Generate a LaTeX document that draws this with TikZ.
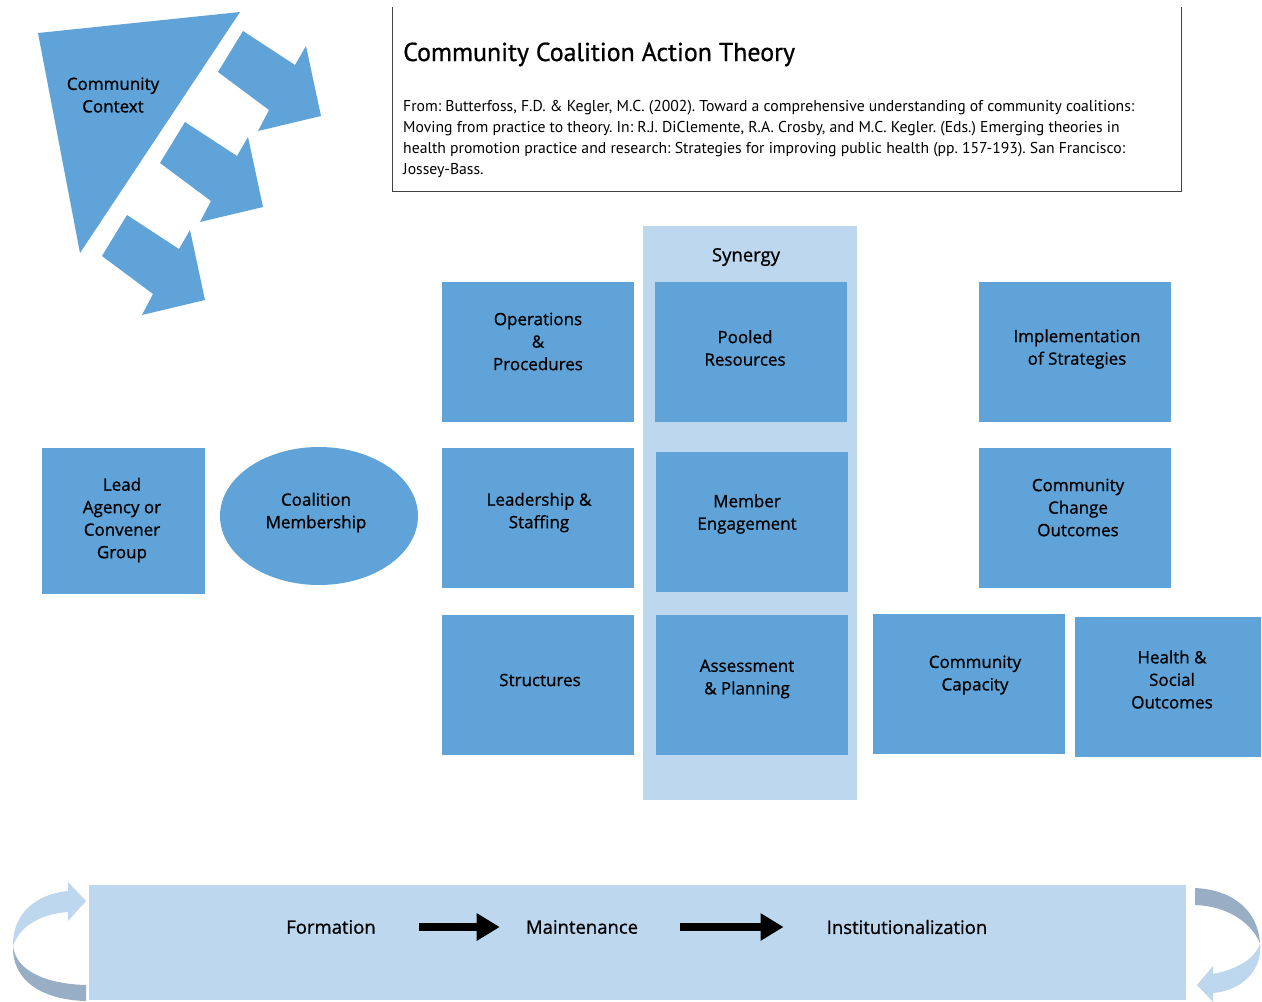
\documentclass[tikz,border=0pt]{standalone}
\usepackage{fontspec}
\setmainfont{Open Sans}
\newfontfamily\ccfont{Open Sans}[FakeBold=0.9]
\newfontfamily\citefont{PT Sans}
\newfontfamily\titlefont{PT Sans}[FakeBold=0.8]
\usetikzlibrary{positioning,arrows.meta,shapes.geometric}
\frenchspacing
\definecolor{ccBlue}{HTML}{5FA3D8}
\definecolor{ccPale}{HTML}{BDD7EE}
\definecolor{ccSlate}{HTML}{98AEC5}
\newcommand{\ccBoxFont}{\ccfont\fontsize{17}{22.5}\selectfont}
\newcommand{\ccBarFont}{\ccfont\fontsize{18.5}{22}\selectfont}
\tikzset{
  ccbox/.style={rectangle, fill=ccBlue, minimum width=192pt, minimum height=140pt, inner sep=0pt},
  ccoval/.style={ellipse, fill=ccBlue, minimum width=198pt, minimum height=138pt, inner sep=0pt},
  cctext/.style={inner sep=0pt, align=center, font=\ccBoxFont},
  ccstage/.style={inner sep=0pt, font=\ccBarFont},
  ccflow/.style={line width=8.5pt, -{Triangle[width=26pt,length=23pt]}},
  ccarrow/.style={fill=ccBlue},
}

\begin{document}
\begin{tikzpicture}[x=1pt,y=-1pt]
  \useasboundingbox (0,0) rectangle (1262,1002);
  % community context
  \fill[ccBlue] (38,33) -- (240,12) -- (80,253) -- cycle;
  \node[cctext] (ctx) at (113,95) {Community\\Context};
  \foreach \dx/\dy in {0/0,-58/91,-116/184}
    \fill[ccarrow, shift={(\dx,\dy)}] (218,72) -- (243,31) -- (295,65) -- (306,46)
      -- (321,116) -- (258,131) -- (269,110) -- cycle;
  % title frame
  \draw[black!75, line width=0.9pt] (392,7) -- (392,191) -- (1181,191) -- (1181,7);
  \node[anchor=base west, inner sep=0pt, font=\titlefont\fontsize{25.9}{30}\selectfont] (title) at (403,61)
    {Community Coalition Action Theory};
  \node[anchor=north west, inner sep=0pt, align=left, font=\citefont\fontsize{15.7}{21.2}\selectfont] (cite) at (403,100)
    {From: Butterfoss, F.D. \& Kegler, M.C. (2002). Toward a comprehensive understanding of community coalitions:\\
     Moving from practice to theory. In: R.J. DiClemente, R.A. Crosby, and M.C. Kegler. (Eds.) Emerging theories in\\
     health promotion practice and research: Strategies for improving public health (pp. 157-193). San Francisco:\\
     Jossey-Bass.};
  % synergy column
  \fill[ccPale] (643,226) rectangle (857,800);
  \node[ccstage] (syn) at (746,257) {Synergy};
  % boxes
  \node[ccbox] (ops) at (538,352) {};
  \node[ccbox] (pool) at (751,352) {};
  \node[ccbox] (impl) at (1075,352) {};
  \node[ccbox, minimum width=163pt, minimum height=146pt] (lead) at (123.5,521) {};
  \node[ccoval] (memb) at (319,516) {};
  \node[ccbox] (staff) at (538,518) {};
  \node[ccbox] (engage) at (752,522) {};
  \node[ccbox] (change) at (1075,518) {};
  \node[ccbox] (struct) at (538,685) {};
  \node[ccbox] (plan) at (752,685) {};
  \node[ccbox] (capac) at (969,684) {};
  \node[ccbox, minimum width=186pt] (health) at (1168,687) {};
  % box texts
  \node[cctext] (opsT) at (538,341.5) {Operations\\\&\\Procedures};
  \node[cctext] (poolT) at (745,348) {Pooled\\Resources};
  \node[cctext] (implT) at (1077,349) {Implementation\\of Strategies};
  \node[cctext] (leadT) at (122,520) {Lead\\Agency or\\Convener\\Group};
  \node[cctext] (membT) at (316,512.5) {Coalition\\Membership};
  \node[cctext] (staffT) at (539,512.5) {Leadership \&\\Staffing};
  \node[cctext] (engageT) at (747,514) {Member\\Engagement};
  \node[cctext] (changeT) at (1078,507.5) {Community\\Change\\Outcomes};
  \node[cctext] (structT) at (540,680) {Structures};
  \node[cctext] (planT) at (747,679) {Assessment\\\& Planning};
  \node[cctext] (capacT) at (975,675) {Community\\Capacity};
  \node[cctext] (healthT) at (1172,679.5) {Health \&\\Social\\Outcomes};
  % stages bar
  \fill[ccPale] (89,885) rectangle (1186,1000);
  \node[ccstage] (form) at (331,927) {Formation};
  \node[ccstage] (maint) at (582,927) {Maintenance};
  \node[ccstage] (inst) at (907,927) {Institutionalization};
  \draw[ccflow, shorten <=43pt, shorten >=26pt] (form.east) -- (maint.west);
  \draw[ccflow, shorten <=42pt, shorten >=43pt] (maint.east) -- (inst.west);
  % cycle ribbons
  \fill[ccPale] (86,901) -- (68,882) -- (68,891) .. controls (35,894) and (12,915) .. (13,946)
    .. controls (20,926) and (40,914) .. (68,912) -- (68,921) -- cycle;
  \fill[ccSlate] (13,946) .. controls (16,972) and (48,984) .. (86,985) -- (86,1001)
    .. controls (44,1000) and (12,982) .. (13,946) -- cycle;
  \fill[ccSlate] (1195,888) .. controls (1235,890) and (1258,912) .. (1260,943)
    .. controls (1250,921) and (1226,906) .. (1195,905) -- cycle;
  \fill[ccPale] (1197,985) -- (1213,966) -- (1213,974) .. controls (1238,969) and (1256,958) .. (1260,943)
    .. controls (1263,966) and (1246,990) .. (1213,993) -- (1213,1002) -- cycle;
\end{tikzpicture}
\end{document}
